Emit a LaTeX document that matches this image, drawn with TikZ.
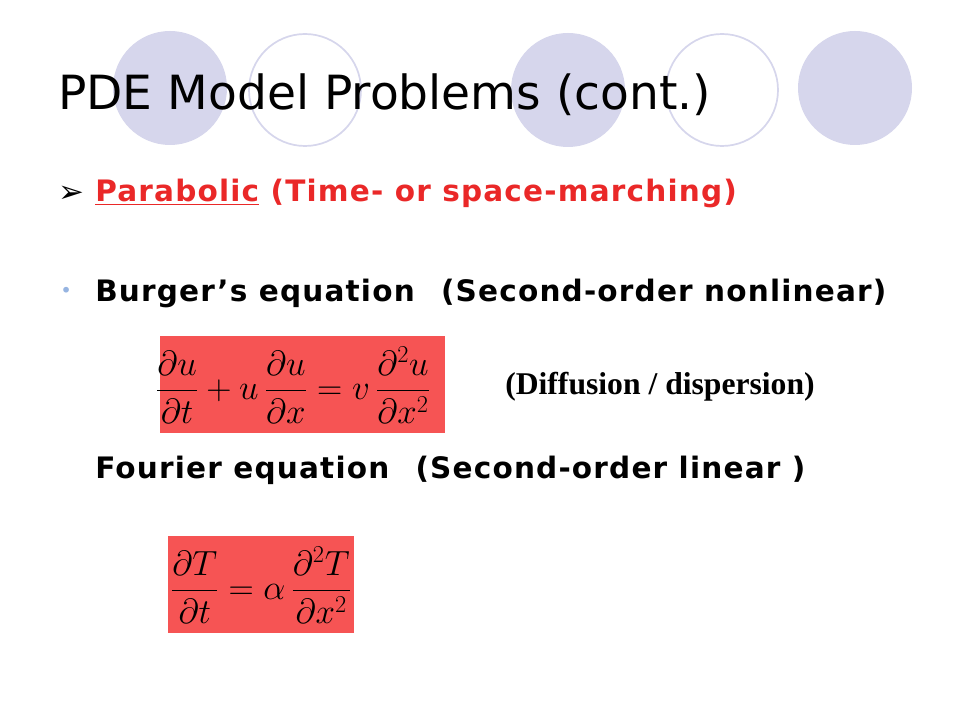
\documentclass[tikz,border=0pt]{standalone}
\usepackage{fontspec}
\setmainfont{Liberation Serif}
\newfontfamily\slidefont{DejaVu Sans}
\newfontfamily\bodyfont[LetterSpace=4]{DejaVu Sans}
\newfontfamily\symfont{DejaVu Sans}
\usetikzlibrary{positioning}
\definecolor{lavender}{RGB}{214,214,236}
\definecolor{boxred}{RGB}{246,84,84}
\definecolor{headred}{RGB}{234,40,40}
\definecolor{dotblue}{RGB}{150,180,225}
\tikzset{
  deco/.style={fill=lavender},
  ring/.style={draw=lavender, line width=1.2pt},
  body/.style={anchor=base west, inner sep=0pt, font=\bodyfont\bfseries\fontsize{21}{24}\selectfont},
  eqbox/.style={fill=boxred, anchor=north west, inner sep=0pt}
}
\begin{document}
\begin{tikzpicture}[x=0.025cm, y=-0.025cm]
  \useasboundingbox[fill=white] (0,0) rectangle (960,720);

  % Circles behind the title
  \fill[deco] (170,88) circle (57);
  \draw[ring] (305,90) circle (56);
  \fill[deco] (568,90) circle (57);
  \draw[ring] (722,90) circle (56);
  \fill[deco] (855,88) circle (57);

  % Title
  \node[anchor=base west, inner sep=0pt, font=\slidefont\fontsize{33.5}{38}\selectfont] (title) at (58,110) {PDE Model Problems (cont.)};

  % Headline
  \node[anchor=base west, inner sep=0pt, font=\symfont\fontsize{22}{24}\selectfont] (arrow) at (58,203) {➢};
  \node[body, text=headred] (para) at (95,202) {\underline{Parabolic} (Time- or space-marching)};

  % Burger
  \node[anchor=base west, inner sep=0pt, text=dotblue, font=\slidefont\fontsize{14}{16}\selectfont] (dot) at (60,298) {•};
  \node[body] (burger) at (95,302) {Burger’s equation\hspace{0.5em} (Second-order nonlinear)};
  \fill[boxred] (160,336) rectangle (445,433);
  \node[font=\fontsize{23}{28}\selectfont] (eqb) at (293,385) {$\displaystyle \frac{\partial u}{\partial t} + u\,\frac{\partial u}{\partial x} = v\,\frac{\partial^2 u}{\partial x^2}$};
  \node[anchor=base west, inner sep=0pt, font=\bfseries\fontsize{22.5}{26}\selectfont] (diff) at (505,395) {(Diffusion / dispersion)};

  % Fourier
  \node[body] (fourier) at (95,479) {Fourier equation\hspace{0.5em} (Second-order linear )};
  \fill[boxred] (168,536) rectangle (354,633);
  \node[font=\fontsize{23}{28}\selectfont] (eqf) at (261,585) {$\displaystyle \frac{\partial T}{\partial t} = \alpha\,\frac{\partial^2 T}{\partial x^2}$};
\end{tikzpicture}
\end{document}
